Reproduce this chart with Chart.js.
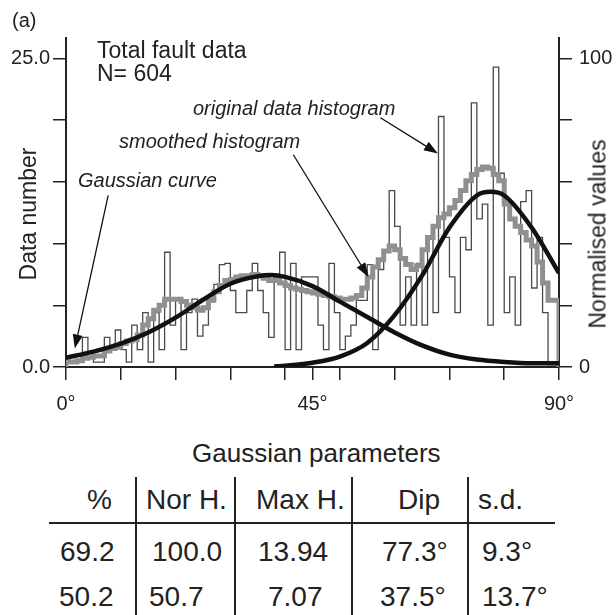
<!DOCTYPE html>
<html>
<head>
<meta charset="utf-8">
<script src="https://cdn.jsdelivr.net/npm/chart.js@4.4.1/dist/chart.umd.min.js"></script>
<style>
  html, body { margin: 0; padding: 0; background: #fff; }
  #wrap { position: relative; width: 616px; height: 615px; overflow: hidden; background: #fff;
          font-family: "Liberation Sans", Arial, sans-serif; color: #222; }
  #c { position: absolute; left: 0; top: 0; }
  .t { position: absolute; line-height: 1; white-space: nowrap; }
  .it { font-style: italic; }
  .rot { position: absolute; line-height: 1; white-space: nowrap; transform: translate(-50%, -50%) rotate(-90deg); }
  .ln { position: absolute; background: #222; }
</style>
</head>
<body>
<div id="wrap">
  <canvas id="c" width="616" height="430"></canvas>

  <div class="t" style="left:12px;top:10px;font-size:20px">(a)</div>
  <div class="t" style="left:97px;top:39px;font-size:23px">Total fault data</div>
  <div class="t" style="left:97px;top:62px;font-size:23px">N= 604</div>

  <div class="t it" style="left:193px;top:98px;font-size:20px">original data histogram</div>
  <div class="t it" style="left:119px;top:131px;font-size:20px">smoothed histogram</div>
  <div class="t it" style="left:78px;top:170px;font-size:20px">Gaussian curve</div>

  <div class="rot" style="left:28px;top:214px;font-size:23px">Data number</div>
  <div class="rot" style="left:598px;top:234px;font-size:23px">Normalised values</div>

  <div class="t" style="left:192px;top:440px;font-size:26px">Gaussian parameters</div>
  <div id="table"></div>
</div>

<script>
// bins of 1 degree, 0..89
const BIN_START = [
  0,1,2,3,4,5,6,7,8,9,10,11,12,13,14,15,16,17,18,19,20,21,22,23,24,25,26,27,28,29,
  30,31,32,33,34,35,36,37,38,39,40,41,42,43,44,45,46,47,48,49,50,51,52,53,54,55,56,57,58,59,
  60,61,62,63,64,65,66,67,68,69,70,71,72,73,74,75,76,77,78,79,80,81,82,83,84,85,86,87,88,89
]
const BIN_END = 90

// original data histogram (thin line)
const RAW_COUNTS = [
  0.4,0.4,0.4,0.4,2.4,0.9,0.4,0.4,2.4,1.6,3.0,1.4,0.4,3.4,1.4,4.4,0.4,4.4,1.4,9.3,
  3.4,5.5,1.4,4.4,5.5,2.5,3.4,5.3,6.7,8.3,8.4,6.2,4.4,4.4,6.2,8.4,6.2,4.4,2.4,7.3,
  9.3,1.4,8.4,1.4,7.3,7.3,7.3,3.4,1.4,8.4,4.4,1.4,2.5,3.4,5.4,5.4,8.3,1.4,7.9,9.5,
  14.3,11.4,3.4,7.3,3.4,8.4,3.4,10.5,4.4,20.3,10.5,7.3,4.4,10.5,9.5,21.4,12.0,13.2,3.4,24.3,
  15.7,4.4,7.3,3.4,13.4,14.3,6.4,10.5,4.4,0.2
]

// smoothed histogram (thick grey line)
const SMOOTH_COUNTS = [
  0.3,0.4,0.4,0.5,0.7,0.8,0.9,0.9,1.3,1.5,1.6,1.9,2.1,2.2,2.6,3.4,3.9,4.6,5.0,5.5,
  5.5,5.5,5.3,5.0,4.8,4.6,4.8,5.4,6.1,6.6,7.0,7.1,7.3,7.4,7.4,7.5,7.4,7.2,7.0,7.0,
  6.8,6.6,6.4,6.3,6.2,6.1,6.0,5.9,5.8,5.7,5.6,5.5,5.5,5.6,5.8,6.4,7.3,8.1,8.7,9.4,
  9.8,9.5,8.8,8.3,7.9,8.2,9.5,10.5,11.4,12.1,12.4,12.9,13.5,14.3,15.1,15.6,16.0,16.2,16.1,15.6,
  15.1,13.2,12.0,11.4,10.9,10.3,9.8,8.5,6.8,5.4
]

// Gaussian curves
const G1_DEG = [38, 40, 45, 50, 55, 60, 65, 70, 75, 77.5, 80, 85, 90]
const G1_VAL = [0.05, 0.1, 0.35, 0.85, 1.95, 4.2, 7.4, 11.3, 13.9, 14.2, 13.9, 11.3, 7.6]
const G2_DEG = [0, 5, 10, 15, 20, 25, 30, 35, 37.5, 40, 45, 50, 55, 60, 65, 70, 75, 80, 85, 90]
const G2_VAL = [0.75, 1.25, 1.9, 2.8, 4.0, 5.45, 6.75, 7.35, 7.45, 7.3, 6.55, 5.3, 4.05, 2.8, 1.75, 1.0, 0.6, 0.4, 0.3, 0.3]

// axes
const X_TICKS = [0, 10, 20, 30, 40, 45, 50, 60, 70, 80, 90]
const X_LABELS = { 0: "0°", 45: "45°", 90: "90°" }
const Y_TICKS = [0, 5, 10, 15, 20, 25]
const Y_LABELS = { 0: "0.0", 25: "25.0" }
const Y2_TICKS = [0, 20, 40, 60, 80, 100]
const Y2_LABELS = { 0: "0", 100: "100" }

// arrows: [deg, count] from -> to
const ARROW_FROM = [[57.4, 20.2], [41.5, 17.2], [7.7, 13.9]]
const ARROW_TO = [[67.9, 17.3], [55.2, 7.3], [1.6, 1.5]]

// table
const TABLE_HEAD = ["%", "Nor H.", "Max H.", "Dip", "s.d."]
const TABLE_ROWS = [
  ["69.2", "100.0", "13.94", "77.3°", "9.3°"],
  ["50.2", "50.7", "7.07", "37.5°", "13.7°"]
]

// ---- table layout
const headLeft = [87, 146, 256, 398, 478]
const rowLeft = [[60, 152, 258, 382, 482], [59, 149, 268, 380, 482]]
const rowTop = [538, 583]
let html = ""
TABLE_HEAD.forEach((h, i) => {
  html += `<div class="t" style="left:${headLeft[i]}px;top:486px;font-size:28px">${h}</div>`
})
TABLE_ROWS.forEach((row, r) => {
  row.forEach((v, i) => {
    html += `<div class="t" style="left:${rowLeft[r][i]}px;top:${rowTop[r]}px;font-size:28px">${v}</div>`
  })
})
;[136, 235, 352, 468].forEach(x => {
  html += `<div class="ln" style="left:${x - 1}px;top:477px;width:2px;height:140px"></div>`
})
html += `<div class="ln" style="left:49px;top:522px;width:506px;height:2px"></div>`
document.getElementById("table").innerHTML = html

// ---- step data
function stepPoints(values) {
  const pts = [{ x: BIN_START[0], y: 0 }]
  values.forEach((v, i) => pts.push({ x: BIN_START[i], y: v }))
  pts.push({ x: BIN_END, y: values[values.length - 1] })
  pts.push({ x: BIN_END, y: 0 })
  return pts
}

const arrowPlugin = {
  id: "arrows",
  afterDatasetsDraw(chart) {
    const { ctx, scales } = chart
    ctx.save()
    ctx.strokeStyle = "#111"
    ctx.fillStyle = "#111"
    ctx.lineWidth = 1.3
    ARROW_FROM.forEach((f, i) => {
      const t = ARROW_TO[i]
      const x1 = scales.x.getPixelForValue(f[0]), y1 = scales.y.getPixelForValue(f[1])
      const x2 = scales.x.getPixelForValue(t[0]), y2 = scales.y.getPixelForValue(t[1])
      const a = Math.atan2(y2 - y1, x2 - x1)
      const len = 14, half = 5
      const bx = x2 - len * Math.cos(a), by = y2 - len * Math.sin(a)
      ctx.beginPath()
      ctx.moveTo(x1, y1)
      ctx.lineTo(bx, by)
      ctx.stroke()
      ctx.beginPath()
      ctx.moveTo(x2, y2)
      ctx.lineTo(bx + half * Math.sin(a), by - half * Math.cos(a))
      ctx.lineTo(bx - half * Math.sin(a), by + half * Math.cos(a))
      ctx.closePath()
      ctx.fill()
    })
    ctx.restore()
  }
}

Chart.defaults.font.family = '"Liberation Sans", Arial, sans-serif'
Chart.defaults.color = "#222"

const axisGrid = { drawOnChartArea: false, drawTicks: true, tickLength: 13, color: "#222", lineWidth: 1.5 }
const axisBorder = { display: true, color: "#222", width: 2 }

new Chart(document.getElementById("c"), {
  type: "line",
  data: {
    datasets: [
      {
        data: G1_DEG.map((d, i) => ({ x: d, y: G1_VAL[i] })),
        borderColor: "#111", borderWidth: 4.5, pointRadius: 0,
        cubicInterpolationMode: "monotone", order: 1
      },
      {
        data: G2_DEG.map((d, i) => ({ x: d, y: G2_VAL[i] })),
        borderColor: "#111", borderWidth: 4.5, pointRadius: 0,
        cubicInterpolationMode: "monotone", order: 1
      },
      {
        data: stepPoints(SMOOTH_COUNTS),
        borderColor: "#909090", borderWidth: 5, pointRadius: 0,
        stepped: "after", order: 2
      },
      {
        data: stepPoints(RAW_COUNTS),
        borderColor: "#4a4a4a", borderWidth: 1.3, pointRadius: 0,
        stepped: "after", order: 3
      }
    ]
  },
  options: {
    responsive: false,
    animation: false,
    devicePixelRatio: 1,
    layout: { padding: { top: 38, left: 0, right: 0, bottom: 0 } },
    plugins: { legend: { display: false }, tooltip: { enabled: false } },
    scales: {
      x: {
        type: "linear", min: 0, max: 90,
        afterBuildTicks: s => { s.ticks = X_TICKS.map(v => ({ value: v })) },
        afterFit: s => { s.height = 63 },
        ticks: { autoSkip: false, maxRotation: 0, padding: 12, font: { size: 20 },
                 callback: v => X_LABELS[v] || "" },
        grid: axisGrid, border: axisBorder
      },
      y: {
        position: "left", min: 0, max: 26.66,
        afterBuildTicks: s => { s.ticks = Y_TICKS.map(v => ({ value: v })) },
        afterFit: s => { s.width = 66 },
        ticks: { autoSkip: false, padding: 3, font: { size: 20 },
                 callback: v => Y_LABELS[v] || "" },
        grid: axisGrid, border: axisBorder
      },
      y2: {
        position: "right", min: 0, max: 106.6,
        afterBuildTicks: s => { s.ticks = Y2_TICKS.map(v => ({ value: v })) },
        afterFit: s => { s.width = 57 },
        ticks: { autoSkip: false, padding: 7, font: { size: 20 },
                 callback: v => Y2_LABELS[v] || "" },
        grid: axisGrid, border: axisBorder
      }
    }
  },
  plugins: [arrowPlugin]
})
</script>
</body>
</html>
